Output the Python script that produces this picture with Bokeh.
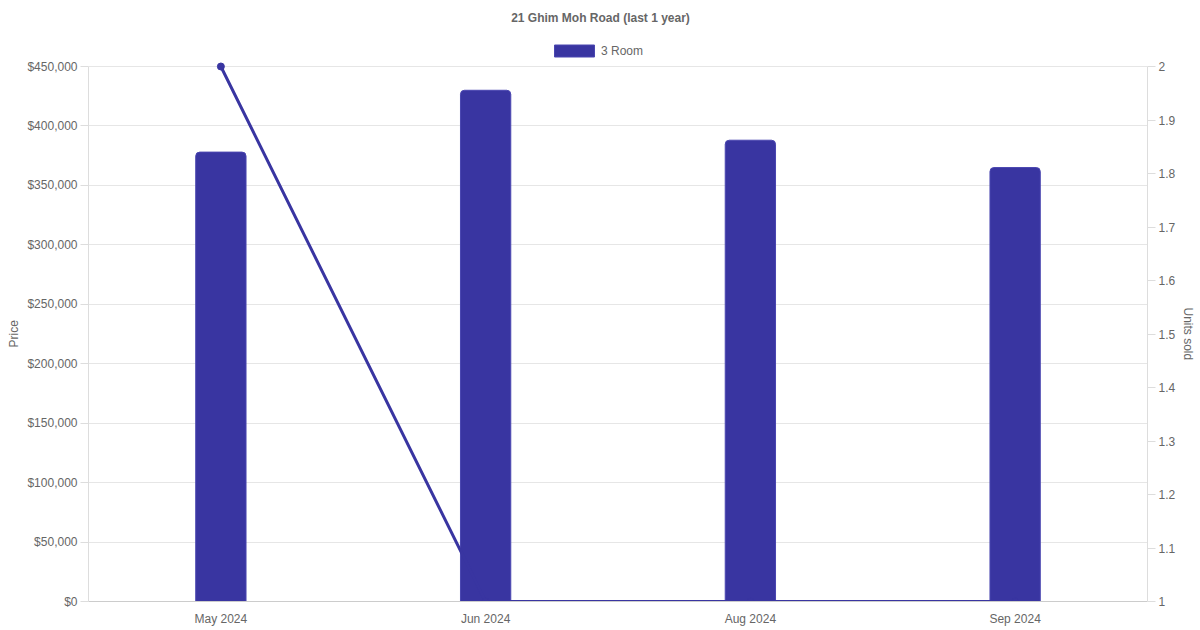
from bokeh.plotting import figure
from bokeh.models import (FactorRange, Range1d, LinearAxis, NumeralTickFormatter, Label, Title,
                          FixedTicker, CustomJSTickFormatter, Legend, LegendItem, ColumnDataSource)
from bokeh.embed import file_html
from bokeh.resources import INLINE

months = ["May 2024", "Jun 2024", "Aug 2024", "Sep 2024"]
prices = [378000, 430000, 388000, 365000]
units_sold = [2, 1, 1, 1]
price_ticks = [0, 50000, 100000, 150000, 200000, 250000, 300000, 350000, 400000, 450000]
unit_ticks = [1, 1.1, 1.2, 1.3, 1.4, 1.5, 1.6, 1.7, 1.8, 1.9, 2]

COLOR = "#3935a1"
TXT = "#666666"
FONT = "Liberation Sans"

# frame spans full height above the x axis; the visible value axes stop at their top tick
FRAME_H = 601.0
AXIS_H = 535.0
price_max = price_ticks[-1]
units_min, units_max = unit_ticks[0], unit_ticks[-1]
price_end = price_max * FRAME_H / AXIS_H
units_end = units_min + (units_max - units_min) * FRAME_H / AXIS_H

src = ColumnDataSource(dict(month=months, price=prices, units=units_sold))

p = figure(width=1200, height=630, x_range=FactorRange(*months), title=None,
           y_range=Range1d(0, price_end), output_backend="svg", toolbar_location=None,
           min_border_left=88, min_border_right=53, min_border_top=0, min_border_bottom=29)

p.extra_y_ranges = {"units": Range1d(units_min, units_end)}

bars = p.vbar(x="month", top="price", width=0.19, source=src, fill_color=COLOR,
              line_color="#4a46b0", line_width=1, border_radius=(4, 4, 0, 0))
p.line(x="month", y="units", source=src, y_range_name="units", line_color=COLOR, line_width=3)
p.scatter(x="month", y="units", source=src, y_range_name="units", size=7,
          fill_color=COLOR, line_color=COLOR)

p.add_layout(Label(x=512, y=FRAME_H - 17, x_units="screen", y_units="screen",
                   text="21 Ghim Moh Road (last 1 year)", text_align="center",
                   text_baseline="middle", text_font=FONT, text_font_size="12px",
                   text_font_style="bold", text_color=TXT))

legend = Legend(items=[LegendItem(label="3 Room", renderers=[bars])], location=(461, 543),
                orientation="horizontal", glyph_width=50, glyph_height=15,
                label_text_font=FONT, label_text_font_size="12px", label_text_color=TXT,
                padding=2, margin=0, border_line_color=None, background_fill_alpha=0,
                label_standoff=2, label_height=12)
p.add_layout(legend)

# axes
p.xaxis.major_tick_line_color = None
p.xaxis.minor_tick_line_color = None
p.xaxis.major_tick_out = 0
p.xaxis.major_label_standoff = 10
p.xaxis.axis_line_color = "#cccccc"

p.yaxis.ticker = FixedTicker(ticks=price_ticks)
p.yaxis.formatter = NumeralTickFormatter(format="$0,0")
p.yaxis.bounds = (0, price_max)
p.yaxis.minor_tick_line_color = None
p.yaxis.major_tick_out = 8
p.yaxis.major_tick_in = 0
p.yaxis.major_label_standoff = 3
p.yaxis.axis_line_color = "#dddddd"
p.yaxis.major_tick_line_color = "#dddddd"

ra = LinearAxis(y_range_name="units", bounds=(units_min, units_max),
                ticker=FixedTicker(ticks=unit_ticks),
                formatter=CustomJSTickFormatter(code="return String(Number(tick.toFixed(1)));"))
ra.minor_tick_line_color = None
ra.major_tick_out = 8
ra.major_tick_in = 0
ra.major_label_standoff = 3
ra.axis_line_color = "#dddddd"
ra.major_tick_line_color = "#dddddd"
p.add_layout(ra, "right")

for ax in [p.xaxis[0], p.yaxis[0], ra]:
    ax.major_label_text_font = FONT
    ax.major_label_text_font_size = "12px"
    ax.major_label_text_color = TXT

# axis titles, centred on the value axes (which stop at their top tick)
p.add_layout(Title(text="Price", align="left", offset=254, vertical_align="bottom",
                   standoff=8, text_font=FONT, text_font_size="12px",
                   text_font_style="normal", text_color=TXT), "left")
p.add_layout(Title(text="Units sold", align="left", offset=307, vertical_align="bottom",
                   standoff=5, text_font=FONT, text_font_size="12px",
                   text_font_style="normal", text_color=TXT), "right")

p.xgrid.visible = False
p.ygrid.grid_line_color = "#e6e6e6"
p.outline_line_color = None

open("out.html", "w").write(file_html(p, INLINE))
